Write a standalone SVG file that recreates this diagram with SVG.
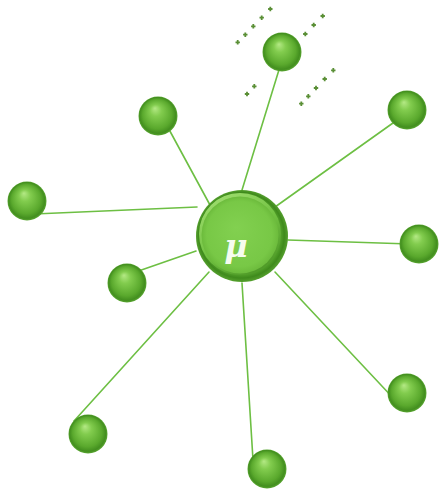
<svg xmlns="http://www.w3.org/2000/svg" xmlns:xlink="http://www.w3.org/1999/xlink" width="440" height="490" viewBox="0 0 440 490">
<style>
.edge{stroke:#6dbf43;stroke-width:1.6;fill:none;stroke-linecap:round}
.ball{fill:url(#gBall)}
.dot{fill:#5a8f36}
.mu{font-family:"DejaVu Serif","Liberation Serif",serif;font-style:italic;font-weight:bold;font-size:32px;fill:#f6fcef;text-anchor:middle}
</style>
<defs>
<radialGradient id="gBall" cx="50%" cy="50%" r="50%" fx="42%" fy="30%">
<stop offset="0" stop-color="#b4e985"/>
<stop offset="0.3" stop-color="#82cc4e"/>
<stop offset="0.75" stop-color="#5aa92d"/>
<stop offset="0.92" stop-color="#438f1f"/>
<stop offset="1" stop-color="#5aa632"/>
</radialGradient>
<radialGradient id="gOuter" cx="50%" cy="50%" r="50%" fx="42%" fy="38%">
<stop offset="0" stop-color="#86d052"/>
<stop offset="0.8" stop-color="#66b838"/>
<stop offset="0.93" stop-color="#3f8a1c"/>
<stop offset="1" stop-color="#55a02e"/>
</radialGradient>
<radialGradient id="gFace" cx="50%" cy="50%" r="50%" fx="45%" fy="40%">
<stop offset="0" stop-color="#82d050"/>
<stop offset="0.85" stop-color="#78c846"/>
<stop offset="1" stop-color="#6cbb3c"/>
</radialGradient>
<linearGradient id="gRim" x1="0.2" y1="0" x2="0.8" y2="1">
<stop offset="0" stop-color="#a0de70"/>
<stop offset="0.5" stop-color="#72c242"/>
<stop offset="1" stop-color="#4a9424"/>
</linearGradient>
<path id="d" d="M-0.9,-2.2h1.8v1.3h1.3v1.8h-1.3v1.3h-1.8v-1.3h-1.3v-1.8h1.3z"/>
</defs>
<g id="connectors">
<line class="edge" x1="242" y1="190" x2="282" y2="60"/>
<line class="edge" x1="210" y1="205" x2="165" y2="122"/>
<line class="edge" x1="275" y1="207" x2="400" y2="118"/>
<line class="edge" x1="197" y1="207" x2="34" y2="214"/>
<line class="edge" x1="288" y1="240" x2="410" y2="244"/>
<line class="edge" x1="196" y1="251" x2="127" y2="275"/>
<line class="edge" x1="275" y1="272" x2="395" y2="400"/>
<line class="edge" x1="209" y1="272" x2="74" y2="421"/>
<line class="edge" x1="242" y1="283" x2="253" y2="460"/>
</g>
<g id="dots" class="dot">
<use xlink:href="#d" x="237.7" y="42.3"/>
<use xlink:href="#d" x="245.3" y="34.7"/>
<use xlink:href="#d" x="253.3" y="26.3"/>
<use xlink:href="#d" x="261.7" y="17.7"/>
<use xlink:href="#d" x="270.3" y="9"/>
<use xlink:href="#d" x="305.3" y="34"/>
<use xlink:href="#d" x="313.7" y="25"/>
<use xlink:href="#d" x="322.7" y="16"/>
<use xlink:href="#d" x="247" y="94"/>
<use xlink:href="#d" x="254.3" y="86.3"/>
<use xlink:href="#d" x="301.3" y="103.7"/>
<use xlink:href="#d" x="308.3" y="96.3"/>
<use xlink:href="#d" x="316" y="88"/>
<use xlink:href="#d" x="324.7" y="79"/>
<use xlink:href="#d" x="333.3" y="70.3"/>
</g>
<g id="n1"><circle class="ball" cx="282" cy="52" r="19.5"/></g>
<g id="n2"><circle class="ball" cx="158" cy="116" r="19.5"/></g>
<g id="n3"><circle class="ball" cx="407" cy="110" r="19.5"/></g>
<g id="n4"><circle class="ball" cx="27" cy="201" r="19.5"/></g>
<g id="n5"><circle class="ball" cx="419" cy="244" r="19.5"/></g>
<g id="n6"><circle class="ball" cx="127" cy="283" r="19.5"/></g>
<g id="n7"><circle class="ball" cx="407" cy="393" r="19.5"/></g>
<g id="n8"><circle class="ball" cx="88" cy="434" r="19.5"/></g>
<g id="n9"><circle class="ball" cx="267" cy="469" r="19.5"/></g>
<g id="center">
<circle cx="242" cy="236" r="46" fill="url(#gOuter)"/>
<circle cx="240" cy="234" r="41" fill="url(#gRim)"/>
<circle cx="240" cy="235" r="38.5" fill="url(#gFace)"/>
<text class="mu" x="236" y="257">μ</text>
</g>
</svg>
